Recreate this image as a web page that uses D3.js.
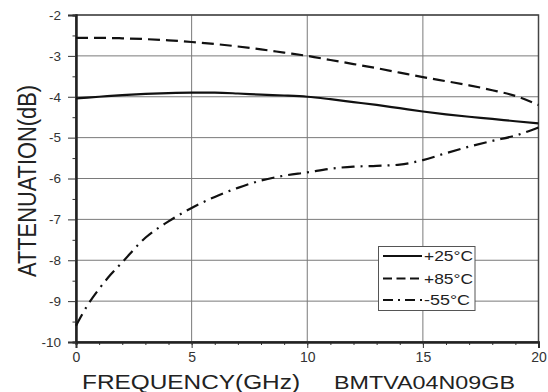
<!DOCTYPE html>
<html>
<head>
<meta charset="utf-8">
<script src="https://cdn.jsdelivr.net/npm/d3@7"></script>
<style>
  html, body { margin: 0; padding: 0; background: #fff; }
  svg { display: block; font-family: "Liberation Sans", Arial, sans-serif; }
</style>
</head>
<body>
<svg id="chart" width="548" height="392"></svg>
<script>
// Frequency sample points (GHz)
const freq25 = [0, 1, 2, 3, 4, 5, 6, 7, 8, 9, 10, 11, 12, 13, 14, 15, 16, 17, 18, 19, 20];
const att25  = [-4.04, -4.0, -3.96, -3.93, -3.91, -3.9, -3.9, -3.92, -3.95, -3.97, -4.0,
                -4.06, -4.13, -4.2, -4.28, -4.36, -4.43, -4.49, -4.54, -4.6, -4.65];

const freq85 = [0, 1, 2, 3, 4, 5, 6, 7, 8, 9, 10, 11, 12, 13, 14, 15, 16, 17, 18, 19, 20];
const att85  = [-2.56, -2.56, -2.57, -2.59, -2.62, -2.66, -2.71, -2.77, -2.84, -2.92, -3.0,
                -3.1, -3.2, -3.3, -3.41, -3.52, -3.62, -3.72, -3.84, -3.98, -4.2];

const freqM55 = [0, 0.5, 1, 1.5, 2, 3, 4, 5, 6, 7, 8, 9, 10, 11, 12, 13, 14, 15, 16, 17, 18, 19, 20];
const attM55  = [-9.6, -9.1, -8.7, -8.35, -8.05, -7.45, -7.05, -6.72, -6.45, -6.23, -6.05, -5.93,
                 -5.85, -5.76, -5.71, -5.69, -5.66, -5.55, -5.38, -5.22, -5.08, -4.95, -4.75];

const seriesNames = ["+25°C", "+85°C", "-55°C"];
const xTicks = [0, 5, 10, 15, 20];
const yTicks = [-2, -3, -4, -5, -6, -7, -8, -9, -10];

const dashes = [null, "12,6", "13,6,2,6"];
const legendDashes = [null, "9,4.5", "10,5,2,5"];

const svg = d3.select("#chart");
const x = d3.scaleLinear().domain([0, 20]).range([76, 538.5]);
const y = d3.scaleLinear().domain([-10, -2]).range([342, 15]);

// Grid
const grid = svg.append("g");
grid.selectAll(".gy").data(yTicks).join("line")
  .attr("x1", x(0)).attr("x2", x(20))
  .attr("y1", d => y(d)).attr("y2", d => y(d))
  .attr("stroke", "#7a7a7a").attr("stroke-width", 1);
grid.selectAll(".gx").data(xTicks).join("line")
  .attr("y1", y(-10)).attr("y2", y(-2))
  .attr("x1", d => x(d)).attr("x2", d => x(d))
  .attr("stroke", "#7a7a7a").attr("stroke-width", 1);

// Frame
svg.append("rect")
  .attr("x", x(0)).attr("y", y(-2))
  .attr("width", x(20) - x(0)).attr("height", y(-10) - y(-2))
  .attr("fill", "none").attr("stroke", "#444").attr("stroke-width", 1.5);

// Axes (outward ticks, minor ticks between); labels use a plain hyphen for negatives
const plain = d => String(d);
const xAxis = d3.axisBottom(x).tickValues(xTicks).tickSize(6).tickPadding(4).tickFormat(plain);
const xMinor = d3.axisBottom(x).tickValues(d3.range(0, 21, 1)).tickSize(3).tickFormat("");
const yAxis = d3.axisLeft(y).tickValues(yTicks).tickSize(8).tickPadding(7).tickFormat(plain);
const yMinor = d3.axisLeft(y).tickValues(d3.range(-9.5, -2, 1)).tickSize(3.5).tickFormat("");

function styleAxis(g) {
  g.select(".domain").attr("stroke", "#222").attr("stroke-width", 2);
  g.selectAll(".tick line").attr("stroke", "#333").attr("stroke-width", 1);
  g.selectAll(".tick text").attr("fill", "#333").attr("font-family", "Liberation Sans, Arial, sans-serif");
}
svg.append("g").attr("transform", `translate(0,${y(-10)})`).call(xMinor).call(styleAxis);
svg.append("g").attr("transform", `translate(0,${y(-10)})`).call(xAxis).call(styleAxis)
  .selectAll(".tick text").attr("font-size", 14);
svg.append("g").attr("transform", `translate(${x(0)},0)`).call(yMinor).call(styleAxis);
svg.append("g").attr("transform", `translate(${x(0)},0)`).call(yAxis).call(styleAxis)
  .selectAll(".tick text").attr("font-size", 13.5);

// Curves
const line = d3.line().x(d => x(d[0])).y(d => y(d[1])).curve(d3.curveMonotoneX);
const series = [
  d3.zip(freq25, att25),
  d3.zip(freq85, att85),
  d3.zip(freqM55, attM55)
];
svg.append("g").selectAll("path").data(series).join("path")
  .attr("d", line)
  .attr("fill", "none")
  .attr("stroke", "#111")
  .attr("stroke-width", 2.2)
  .attr("stroke-dasharray", (d, i) => dashes[i]);

// Legend
const lg = svg.append("g");
lg.append("rect").attr("x", 378.5).attr("y", 246.5).attr("width", 96.5).attr("height", 64)
  .attr("fill", "#fff").attr("stroke", "#555").attr("stroke-width", 1);
const rowY = [256, 278.5, 300];
seriesNames.forEach((name, i) => {
  lg.append("line").attr("x1", 383).attr("x2", 422)
    .attr("y1", rowY[i]).attr("y2", rowY[i])
    .attr("stroke", "#111").attr("stroke-width", 2)
    .attr("stroke-dasharray", legendDashes[i]);
  lg.append("text").attr("x", 424).attr("y", rowY[i]).attr("dy", "0.36em")
    .attr("font-size", 15).attr("fill", "#222")
    .attr("textLength", name.startsWith("-") ? 46 : 49).attr("lengthAdjust", "spacingAndGlyphs")
    .text(name);
});

// Axis titles
svg.append("text")
  .attr("transform", `translate(35.5,181) rotate(-90)`)
  .attr("text-anchor", "middle")
  .attr("font-size", 25).attr("fill", "#222")
  .attr("textLength", 192).attr("lengthAdjust", "spacingAndGlyphs")
  .text("ATTENUATION(dB)");
svg.append("text")
  .attr("x", 82).attr("y", 388.5)
  .attr("font-size", 20).attr("fill", "#222")
  .attr("textLength", 218).attr("lengthAdjust", "spacingAndGlyphs")
  .text("FREQUENCY(GHz)");
svg.append("text")
  .attr("x", 334).attr("y", 388.5)
  .attr("font-size", 18).attr("fill", "#222")
  .attr("textLength", 181).attr("lengthAdjust", "spacingAndGlyphs")
  .text("BMTVA04N09GB");
</script>
</body>
</html>
